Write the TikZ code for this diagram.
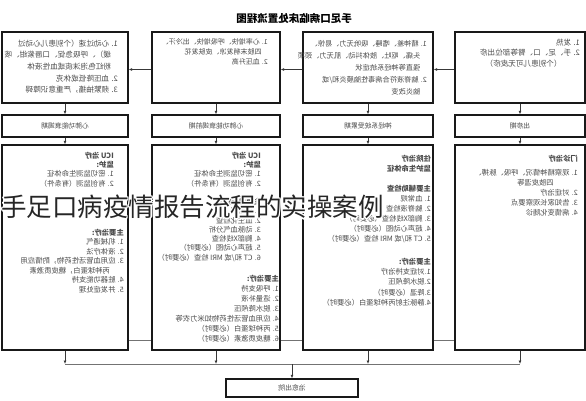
\documentclass[tikz,border=0pt]{standalone}
\usepackage{fontspec}
\usepackage{graphicx}
\newfontfamily\cjk{Noto Sans CJK SC}
\usetikzlibrary{arrows.meta,calc}
\newcommand{\mirpar}[1]{\reflectbox{\parbox[t]{135pt}{\raggedright #1}}}
\begin{document}
\begin{tikzpicture}[x=1pt,y=-1pt,
  box/.style={draw=black!90, line width=1.4pt, fill=white, inner sep=0pt},
  lbl/.style={text=black!72, font=\cjk\fontsize{6.8}{8}\selectfont},
  txt/.style={inner sep=0pt, anchor=north east, text=black!70},
  arr/.style={draw=black!78, line width=0.8pt, -{Latex[length=3.5pt,width=3pt]}},
  ln/.style={draw=black!55, line width=0.8pt},
  ov/.style={anchor=west, inner sep=0pt, font=\cjk\fontsize{25.5}{28}\selectfont},
]
\useasboundingbox (0,0) rectangle (586,400);
\fill[white] (0,0) rectangle (586,400);

% title
\node[font=\cjk\bfseries\fontsize{10.5}{12}\selectfont, text=black] (title) at (294,18) {\reflectbox{手足口病临床处置流程图}};

% top row
\node[box, minimum width=126, minimum height=71] (t1) at (65,67.5) {};
\node[box, minimum width=128, minimum height=71] (t2) at (216,67.5) {};
\node[box, minimum width=130, minimum height=71] (t3) at (368,67.5) {};
\node[box, minimum width=130, minimum height=71] (t4) at (520,67.5) {};

% second row
\node[box, lbl, minimum width=126, minimum height=22] (m1) at (65,126) {\reflectbox{心肺功能衰竭期}};
\node[box, lbl, minimum width=128, minimum height=22] (m2) at (216,126) {\reflectbox{心肺功能衰竭前期}};
\node[box, lbl, minimum width=130, minimum height=22] (m3) at (368,126) {\reflectbox{神经系统受累期}};
\node[box, lbl, minimum width=130, minimum height=22] (m4) at (520,126) {\reflectbox{出疹期}};

% third row
\coordinate (ml) at (0,340);
\node[box, minimum width=126, minimum height=205] (r1) at (65,247.5) {};
\node[box, minimum width=128, minimum height=205] (r2) at (216,247.5) {};
\node[box, minimum width=130, minimum height=205] (r3) at (368,247.5) {};
\node[box, minimum width=130, minimum height=205] (r4) at (520,247.5) {};
\draw[ln] (r1.east |- ml) -- (r2.west |- ml);
\draw[ln] (r2.east |- ml) -- (r3.west |- ml);
\draw[ln] (r3.east |- ml) -- (r4.west |- ml);

% final box
\node[box, lbl, minimum width=132, minimum height=18] (fin) at (292,388) {\reflectbox{治愈出院}};

% top texts
\node[txt, font=\cjk\fontsize{7.6}{11.7}\selectfont] (t1txt) at (118,39.4) {\mirpar{1. 心动过速（个别患儿心动过\\\hspace*{0.9em}缓）、呼吸急促、口唇紫绀、咳\\\hspace*{0.9em}粉红色泡沫痰或血性液体\\2. 血压降低或休克\\3. 频繁抽搐，严重意识障碍}};
\node[txt, font=\cjk\fontsize{7.0}{10}\selectfont] (t2txt) at (268,37.9) {\mirpar{1. 心率增快、呼吸增快、出冷汗、\\\hspace*{0.9em}四肢末梢发凉、皮肤发花\\2. 血压升高}};
\node[txt, font=\cjk\fontsize{7.2}{12}\selectfont] (t3txt) at (427,39.7) {\mirpar{1. 精神差、嗜睡、吸吮无力、易惊、\\\hspace*{0.9em}头痛、呕吐、肢体抖动、肌无力、颈项\\\hspace*{0.9em}强直等神经系统症状\\2. 脑脊液符合病毒性脑膜炎和/或\\\hspace*{0.9em}脑炎改变}};
\node[txt, font=\cjk\fontsize{7.6}{10.5}\selectfont] (t4txt) at (580,38.6) {\mirpar{1. 发热\\2. 手、足、口、臀等部位出疹\\\hspace*{2.4em}（个别患儿可无皮疹）}};

% third row texts
\node[txt, font=\cjk\fontsize{7.3}{9.4}\selectfont] (r1a) at (114,151.7) {\mirpar{{\bfseries ICU 治疗}\\{\bfseries 监护:}\\1. 密切监测生命体征\\2. 有创监测（有条件）}};
\node[txt, font=\cjk\fontsize{7.3}{9.5}\selectfont] (r1b) at (124,228.7) {\mirpar{{\bfseries 主要治疗:}\\1. 机械通气\\2. 液体疗法\\3. 应用血管活性药物，酌情应用\\\hspace*{1.9em}丙种球蛋白，糖皮质激素\\4. 脏器功能支持\\5. 并发症处理}};
\node[txt, font=\cjk\fontsize{7.3}{9.27}\selectfont] (r2a) at (261,151.7) {\mirpar{{\bfseries ICU 治疗}\\{\bfseries 监护:}\\1. 密切监测生命体征\\2. 有创监测（有条件）\\\mbox{}\\{\bfseries 主要辅助检查}\\1. 血常规\\2. 血生化检查\\3. 动脉血气分析\\4. 胸部X线检查\\5. 超声心动图（必要时）\\6. CT 和/或 MRI 检查（必要时）}};
\node[txt, font=\cjk\fontsize{7.3}{10}\selectfont] (r2b) at (279,274.7) {\mirpar{{\bfseries 主要治疗:}\\1. 呼吸支持\\2. 适量补液\\3. 脱水降颅压\\4. 应用血管活性药物如米力农等\\5. 丙种球蛋白（必要时）\\6. 糖皮质激素（必要时）}};
\node[txt, font=\cjk\fontsize{7.3}{10}\selectfont] (r3a) at (431,154.7) {\mirpar{{\bfseries 住院治疗}\\{\bfseries 监护生命体征}\\\mbox{}\\{\bfseries 主要辅助检查}\\1. 血常规\\2. 脑脊液检查\\3. 胸部X线检查（必要时）\\4. 超声心动图（必要时）\\5. CT 和/或 MRI 检查（必要时）}};
\node[txt, font=\cjk\fontsize{7.3}{10.3}\selectfont] (r3b) at (431,257.7) {\mirpar{{\bfseries 主要治疗:}\\1.对症支持治疗\\2.脱水降颅压\\3.降温（必要时）\\4.静脉注射丙种球蛋白（必要时）}};
\node[txt, font=\cjk\fontsize{7.3}{10}\selectfont] (r4a) at (578,154.7) {\mirpar{{\bfseries 门诊治疗}\\[4pt]1. 观察精神情况、呼吸、脉搏、\\\hspace*{3.3em}四肢皮温等\\2. 对症治疗\\3. 告知家长观察要点\\4. 病情变化随诊}};

% connectors
\draw[arr] ([yshift=-2pt]t4.west) -- ([yshift=-2pt]t3.east);
\draw[arr] ([yshift=-2pt]t3.west) -- ([yshift=-2pt]t2.east);
\draw[arr] ([yshift=-2pt]t2.west) -- ([yshift=-2pt]t1.east);
\foreach \k in {1,2,3,4}{
  \draw[arr] (t\k.south) -- (m\k.north);
  \draw[arr] (m\k.south) -- (r\k.north);
}
\coordinate (hl) at (0,364);
\draw[ln] (r1.south |- hl) -- (r4.south |- hl);
\foreach \k in {1,2,3,4}{
  \draw[arr] (r\k.south) -- (r\k.south |- hl);
}
\draw[arr] (fin.north |- hl) -- (fin.north);

% overlay caption
\foreach \dx/\dy [count=\i] in {-1.5/0,1.5/0,0/-1.5,0/1.5,-1.1/-1.1,1.1/1.1,-1.1/1.1,1.1/-1.1}{
  \node[ov, text=white] (halo\i) at (1+\dx,207+\dy) {手足口病疫情报告流程的实操案例};
}
\node[ov, text=black!85] (caption) at (1,207) {手足口病疫情报告流程的实操案例};
\end{tikzpicture}
\end{document}
